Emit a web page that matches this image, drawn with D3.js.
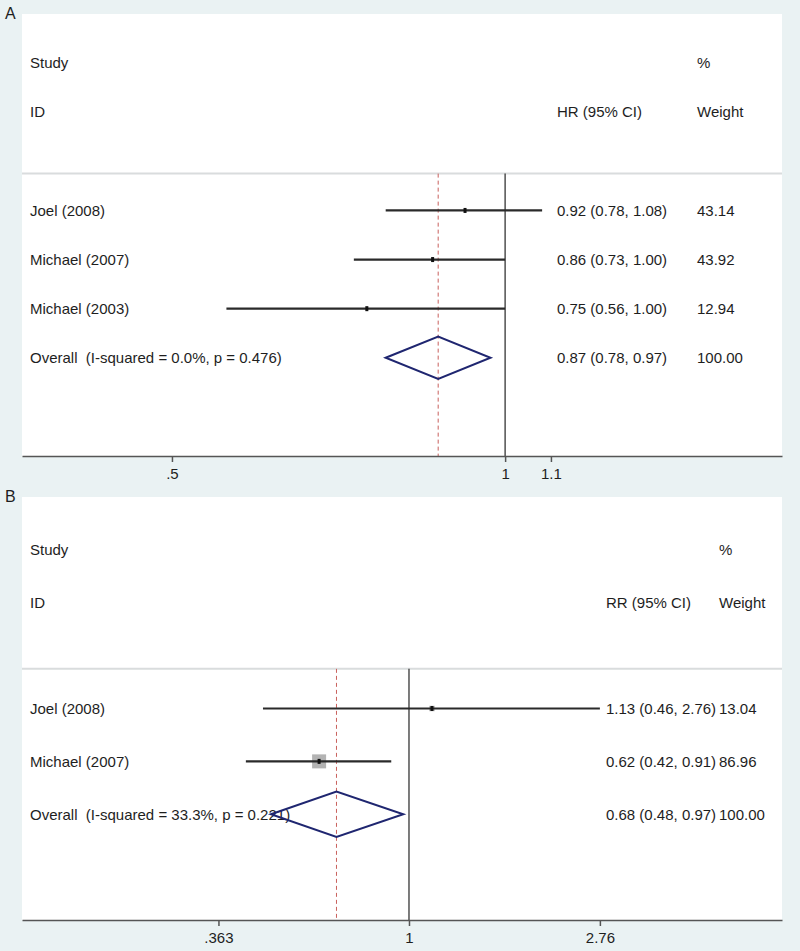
<!DOCTYPE html>
<head>
<meta charset="utf-8">
<style>
  body { margin: 0; background: #eaf2f3; }
  svg text { font-family: 'Liberation Sans', Arial, sans-serif; fill: #1e1e1e; white-space: pre; }
  .panel { fill: #fff; }
  .sep { stroke: #d9dcdd; stroke-width: 2; }
  .ci { stroke: #2a2a2a; stroke-width: 2.2; }
  .ref { stroke: #444; stroke-width: 1.4; }
  .pooled { stroke: #c9605c; stroke-width: 1; stroke-dasharray: 4,3; }
  .diamond { fill: none; stroke: #1f2670; stroke-width: 2; }
  .box { fill: #b3b3b3; }
  .axis path, .axis line { stroke: #555; stroke-width: 1.5; }
  .axis text { font-size: 15px; }
</style>
<title>Forest plots</title>
</head>
<body>
<svg width="800" height="951"></svg>
<script src="https://cdn.jsdelivr.net/npm/d3@7"></script>
<script>

// panel A - hazard ratios
var studiesA = ["Joel (2008)", "Michael (2007)", "Michael (2003)"],
    hrA = [0.92, 0.86, 0.75],
    lowA = [0.78, 0.73, 0.56],
    highA = [1.08, 1.00, 1.00],
    weightA = ["43.14", "43.92", "12.94"],
    overallA = [0.87, 0.78, 0.97],
    overallLabelA = "Overall  (I-squared = 0.0%, p = 0.476)",
    ticksA = [0.5, 1, 1.1],
    tickLabelsA = [".5", "1", "1.1"];

// panel B - relative risks
var studiesB = ["Joel (2008)", "Michael (2007)"],
    rrB = [1.13, 0.62],
    lowB = [0.46, 0.42],
    highB = [2.76, 0.91],
    weightB = ["13.04", "86.96"],
    overallB = [0.68, 0.48, 0.97],
    overallLabelB = "Overall  (I-squared = 33.3%, p = 0.221)",
    ticksB = [0.363, 1, 2.76],
    tickLabelsB = [".363", "1", "2.76"];

var svg = d3.select("svg");
var fmt = d3.format(".2f");

function drawPanel(o) {
  var g = svg.append("g");
  var x = d3.scaleLog().domain(o.domain).range([22, 782]);
  var y = d3.scaleLinear().domain([-4, o.lastRow]).range([o.top, o.bottom]);
  var step = y(1) - y(0);
  var n = o.studies.length;

  g.append("rect").attr("class", "panel")
    .attr("x", 22).attr("y", o.top).attr("width", 760).attr("height", o.bottom - o.top);

  g.append("text").attr("x", 5).attr("y", o.top + 5).style("font-size", "16px").text(o.letter);

  // header
  var head = [["Study", -3, 30], ["ID", -2, 30], [o.measure + " (95% CI)", -2, o.ciX], ["%", -3, o.wX], ["Weight", -2, o.wX]];
  g.selectAll(".head").data(head).enter().append("text")
    .attr("x", function(d) { return d[2]; })
    .attr("y", function(d) { return y(d[1]); })
    .attr("dy", "0.35em").style("font-size", "15px")
    .text(function(d) { return d[0]; });

  g.append("line").attr("class", "sep")
    .attr("x1", 22).attr("x2", 782).attr("y1", y(-0.75)).attr("y2", y(-0.75));

  // reference lines
  g.append("line").attr("class", "ref")
    .attr("x1", x(1)).attr("x2", x(1)).attr("y1", y(-0.75)).attr("y2", o.bottom);
  g.append("line").attr("class", "pooled")
    .attr("x1", x(o.overall[0])).attr("x2", x(o.overall[0])).attr("y1", y(-0.75)).attr("y2", o.bottom);

  var rows = o.studies.map(function(s, i) {
    return {name: s, est: o.est[i], lo: o.low[i], hi: o.high[i], w: o.weight[i], i: i};
  });

  var boxSize = d3.scaleSqrt().domain([0, d3.max(o.weight, Number)]).range([0, o.boxMax]);

  g.selectAll(".box").data(rows).enter().append("rect").attr("class", "box")
    .attr("x", function(d) { return x(d.est) - boxSize(+d.w) / 2; })
    .attr("y", function(d) { return y(d.i) - boxSize(+d.w) / 2; })
    .attr("width", function(d) { return boxSize(+d.w); })
    .attr("height", function(d) { return boxSize(+d.w); });

  g.selectAll(".ci").data(rows).enter().append("line").attr("class", "ci")
    .attr("x1", function(d) { return x(d.lo); })
    .attr("x2", function(d) { return x(d.hi); })
    .attr("y1", function(d) { return y(d.i); })
    .attr("y2", function(d) { return y(d.i); });

  g.selectAll(".pt").data(rows).enter().append("rect")
    .attr("x", function(d) { return x(d.est) - 1.5; })
    .attr("y", function(d) { return y(d.i) - 2.5; })
    .attr("width", 3).attr("height", 5).attr("fill", "#111");

  var txt = rows.concat([{name: o.overallLabel, est: o.overall[0], lo: o.overall[1], hi: o.overall[2], w: "100.00", i: n}]);
  g.selectAll(".lbl").data(txt).enter().append("text")
    .attr("x", 30).attr("y", function(d) { return y(d.i); })
    .attr("dy", "0.35em").style("font-size", "15px")
    .text(function(d) { return d.name; });
  g.selectAll(".est").data(txt).enter().append("text")
    .attr("x", o.ciX).attr("y", function(d) { return y(d.i); })
    .attr("dy", "0.35em").style("font-size", "15px")
    .text(function(d) { return fmt(d.est) + " (" + fmt(d.lo) + ", " + fmt(d.hi) + ")"; });
  g.selectAll(".wt").data(txt).enter().append("text")
    .attr("x", o.wX).attr("y", function(d) { return y(d.i); })
    .attr("dy", "0.35em").style("font-size", "15px")
    .text(function(d) { return d.w; });

  // pooled diamond
  var h = step * 0.43, cy = y(n);
  g.append("path").attr("class", "diamond")
    .attr("d", "M" + x(o.overall[1]) + "," + cy + "L" + x(o.overall[0]) + "," + (cy - h) +
               "L" + x(o.overall[2]) + "," + cy + "L" + x(o.overall[0]) + "," + (cy + h) + "Z");

  g.append("g").attr("class", "axis")
    .attr("transform", "translate(0," + o.bottom + ")")
    .call(d3.axisBottom(x).tickValues(o.ticks).tickSize(6).tickSizeOuter(0).tickPadding(6)
      .tickFormat(function(d, i) { return o.tickLabels[i]; }));
}

drawPanel({letter: "A", measure: "HR", top: 14, bottom: 456, lastRow: 5,
  domain: [0.366, 1.779], studies: studiesA, est: hrA, low: lowA, high: highA,
  weight: weightA, overall: overallA, overallLabel: overallLabelA,
  ticks: ticksA, tickLabels: tickLabelsA, ciX: 557, wX: 697, boxMax: 0});

drawPanel({letter: "B", measure: "RR", top: 497, bottom: 920, lastRow: 4,
  domain: [0.1277, 7.27], studies: studiesB, est: rrB, low: lowB, high: highB,
  weight: weightB, overall: overallB, overallLabel: overallLabelB,
  ticks: ticksB, tickLabels: tickLabelsB, ciX: 606, wX: 719, boxMax: 14});

</script>
</body>
